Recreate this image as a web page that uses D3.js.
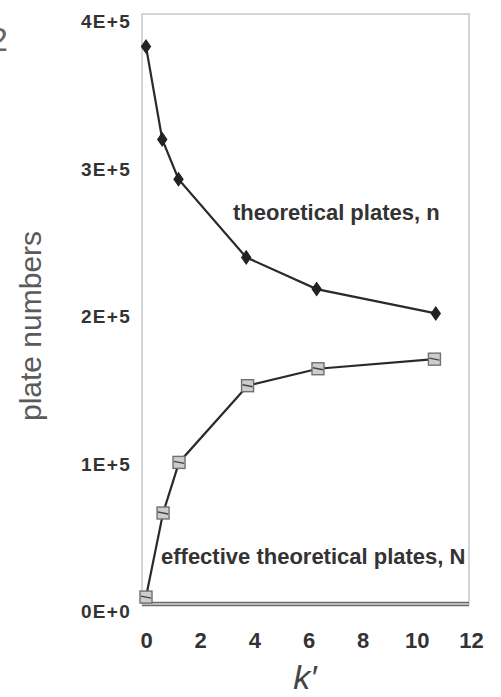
<!DOCTYPE html>
<html>
<head>
<meta charset="utf-8">
<script src="https://cdn.jsdelivr.net/npm/d3@7"></script>
<style>
  html, body { margin: 0; padding: 0; background: #fff; }
  svg { display: block; }
</style>
</head>
<body>
<svg id="chart" width="501" height="697"></svg>
<script>
// ---- data ----
const kPrime = [0, 0.6, 1.2, 3.7, 6.3, 10.7];
const theoreticalN = [378000, 315000, 288000, 235000, 213500, 197000];
const kPrimeEff = [0, 0.63, 1.22, 3.75, 6.35, 10.65];
const effectiveN = [4700, 61700, 96000, 148000, 159500, 166000];
const yTicks = [0, 100000, 200000, 300000, 400000];
const yTickLabels = ["0E+0", "1E+5", "2E+5", "3E+5", "4E+5"];
const xTicks = [0, 2, 4, 6, 8, 10, 12];
const seriesLabels = ["theoretical plates, n", "effective theoretical plates, N"];
const yTitle = "plate numbers";
const xTitle = "k\u2032";
const panelLabel = "2";

// ---- layout ----
const svg = d3.select("#chart");
const plotLeft = 142, plotRight = 469, plotTop = 14, plotBottom = 604;
const x = d3.scaleLinear().domain([0, 12]).range([146, 471]);
const y = d3.scaleLinear().domain([0, 400000]).range([plotBottom, plotTop]);
const FONT = "'Liberation Sans', Arial, sans-serif";

// frame
svg.append("rect")
  .attr("x", plotLeft).attr("y", plotTop)
  .attr("width", plotRight - plotLeft).attr("height", plotBottom - plotTop)
  .attr("fill", "none").attr("stroke", "#c8c8c8").attr("stroke-width", 1.5);
// bottom double line
svg.append("path")
  .attr("d", `M${plotLeft},${plotBottom - 1.5}H${plotRight}M${plotLeft},${plotBottom + 1.5}H${plotRight}`)
  .attr("fill", "none").attr("stroke", "#6a6a6a").attr("stroke-width", 1.3);

// y axis
const yAxis = d3.axisLeft(y).tickValues(yTicks)
  .tickFormat((d, i) => yTickLabels[i]).tickSize(0).tickPadding(11);
const gy = svg.append("g").attr("transform", `translate(${plotLeft},0)`).call(yAxis);
gy.selectAll("path.domain").remove();
gy.selectAll(".tick line").remove();
gy.selectAll("text")
  .attr("dy", null).attr("y", 13.5)
  .style("font-family", FONT)
  .style("font-size", "19px").style("font-weight", "bold")
  .style("letter-spacing", "1.3px")
  .attr("fill", "#333");

// x axis
const xAxis = d3.axisBottom(x).tickValues(xTicks).tickSize(0).tickPadding(0);
const gx = svg.append("g").attr("transform", `translate(0,${plotBottom})`).call(xAxis);
gx.selectAll("path.domain").remove();
gx.selectAll(".tick line").remove();
gx.selectAll("text")
  .attr("dy", null).attr("y", 44)
  .style("font-family", FONT)
  .style("font-size", "22px").style("font-weight", "bold")
  .attr("fill", "#333");

// lines
const lineGen = d3.line().x(d => x(d[0])).y(d => y(d[1]));
const nData = kPrime.map((k, i) => [k, theoreticalN[i]]);
const NData = kPrimeEff.map((k, i) => [k, effectiveN[i]]);

svg.append("path").datum(nData).attr("d", lineGen)
  .attr("fill", "none").attr("stroke", "#2a2a2a").attr("stroke-width", 2.2);
svg.append("path").datum(NData).attr("d", lineGen)
  .attr("fill", "none").attr("stroke", "#2a2a2a").attr("stroke-width", 2.2);

// diamond markers
const diamond = d3.symbol().type(d3.symbolDiamond).size(55);
svg.selectAll(".dia").data(nData).enter().append("path")
  .attr("class", "dia")
  .attr("transform", d => `translate(${x(d[0])},${y(d[1])}) scale(1.15,0.95)`)
  .attr("d", diamond)
  .attr("fill", "#222").attr("stroke", "#222").attr("stroke-width", 1);

// square markers
svg.selectAll(".sq").data(NData).enter().append("rect")
  .attr("class", "sq")
  .attr("x", d => x(d[0]) - 6).attr("y", d => y(d[1]) - 6)
  .attr("width", 12).attr("height", 12)
  .attr("fill", "#cdcdcd").attr("stroke", "#707070").attr("stroke-width", 1.4);
svg.selectAll(".sqline").data(NData).enter().append("path")
  .attr("class", "sqline")
  .attr("d", d => {
    const cx = x(d[0]), cy = y(d[1]);
    return `M${cx - 5},${cy - 1}L${cx + 5},${cy + 1}`;
  })
  .attr("stroke", "#444").attr("stroke-width", 1.4).attr("fill", "none");

// annotations
svg.append("text").attr("x", 233).attr("y", 220).text(seriesLabels[0])
  .style("font-family", FONT)
  .style("font-size", "22px").style("font-weight", "bold")
  .attr("fill", "#333");
svg.append("text").attr("x", 161).attr("y", 564).text(seriesLabels[1])
  .style("font-family", FONT)
  .style("font-size", "22px").style("font-weight", "bold")
  .attr("fill", "#333");

// y title
svg.append("text")
  .attr("transform", "translate(41,326) rotate(-90)")
  .attr("text-anchor", "middle")
  .text(yTitle)
  .style("font-family", FONT)
  .style("font-size", "30px")
  .attr("fill", "#5a5a5a");

// x title
svg.append("text")
  .attr("x", 305).attr("y", 689)
  .attr("text-anchor", "middle")
  .text(xTitle)
  .style("font-family", FONT)
  .style("font-size", "34px").style("font-style", "italic")
  .attr("fill", "#444");

// panel label (cut off at left edge, as in the source figure)
svg.append("text")
  .attr("x", 8).attr("y", 51)
  .attr("text-anchor", "end")
  .text(panelLabel)
  .style("font-family", FONT)
  .style("font-size", "34px")
  .attr("fill", "#666");
</script>
</body>
</html>
